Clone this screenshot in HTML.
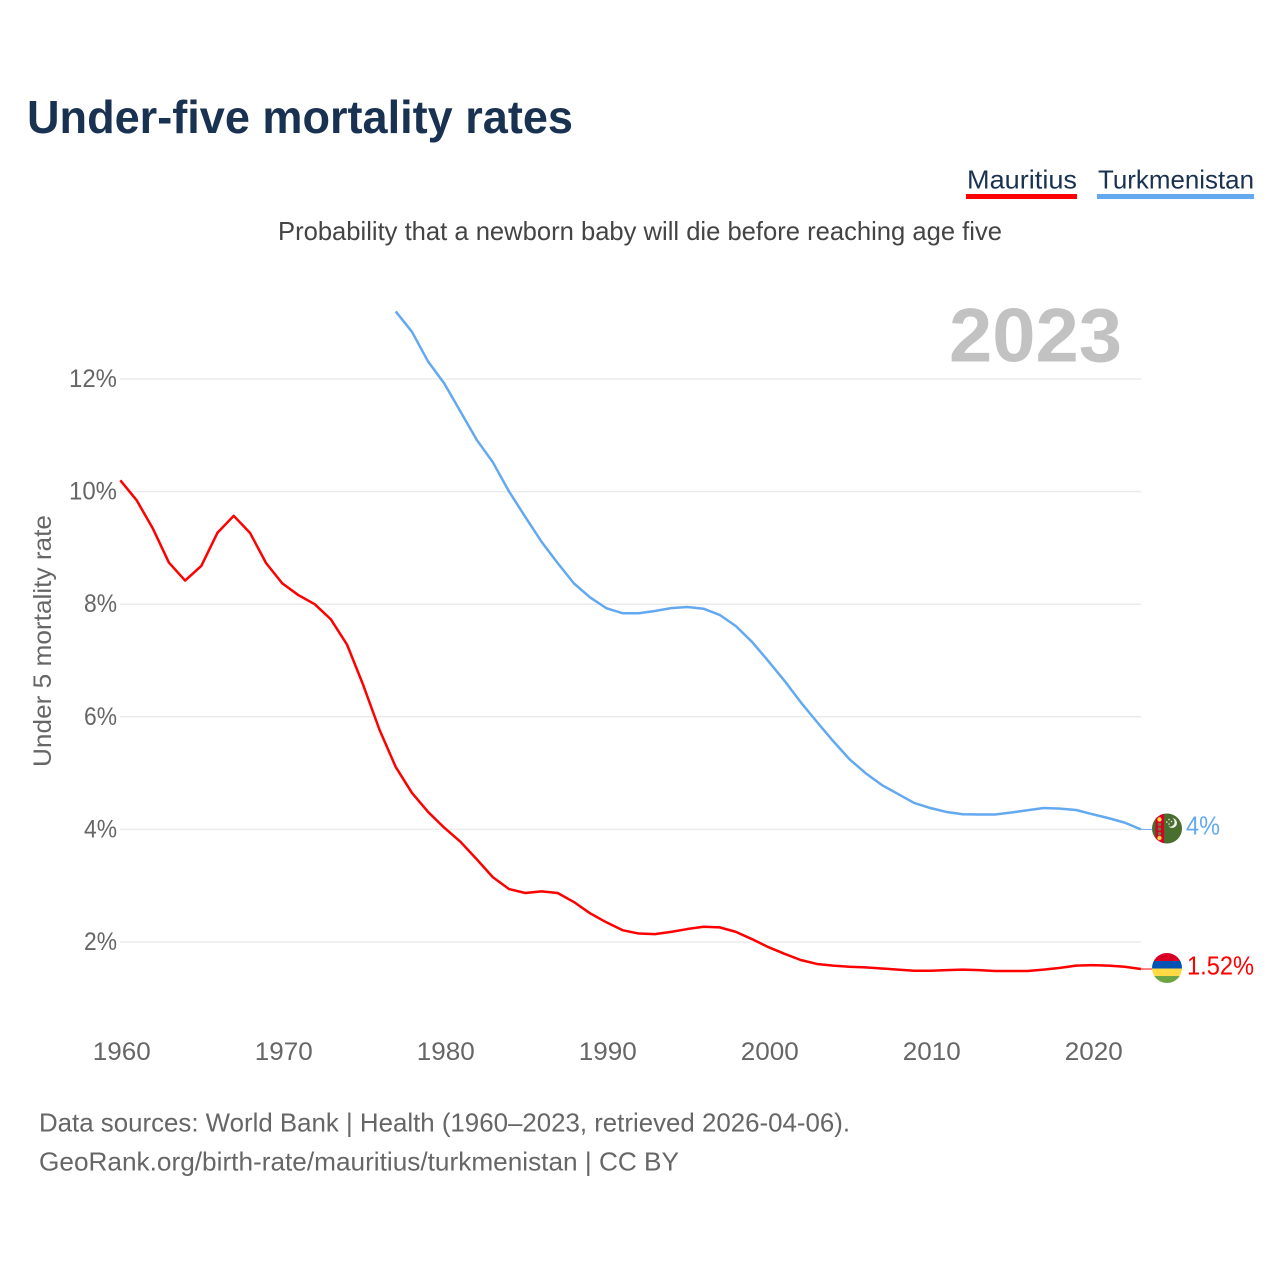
<!DOCTYPE html>
<html lang="en">
<head>
<meta charset="utf-8">
<title>Under-five mortality rates</title>
<style>
html,body{margin:0;padding:0;background:#fff;}
svg{display:block;}
text{font-family:"Liberation Sans",sans-serif;}
</style>
</head>
<body>
<svg id="chart" xmlns="http://www.w3.org/2000/svg" width="1280" height="1280" viewBox="0 0 1280 1280">
  <rect x="0" y="0" width="1280" height="1280" fill="#ffffff"/>
  <text x="27" y="133" font-size="46" font-weight="700" fill="#1a3252" textLength="546" lengthAdjust="spacingAndGlyphs">Under-five mortality rates</text>

  <g>
    <text x="967" y="188.5" font-size="26" fill="#1a3252" textLength="110" lengthAdjust="spacingAndGlyphs">Mauritius</text>
    <rect x="966" y="194" width="111" height="5" fill="#ff0000"/>
  </g>
  <g>
    <text x="1098" y="188.5" font-size="26" fill="#1a3252" textLength="156" lengthAdjust="spacingAndGlyphs">Turkmenistan</text>
    <rect x="1097" y="194" width="157" height="5" fill="#63a9ef"/>
  </g>

  <text x="278" y="240" font-size="26" fill="#444444" textLength="724" lengthAdjust="spacingAndGlyphs">Probability that a newborn baby will die before reaching age five</text>

  <g id="grid"></g>
  <text x="949" y="361.5" font-size="76" font-weight="700" fill="#c2c2c2" textLength="173" lengthAdjust="spacingAndGlyphs">2023</text>
  <g id="yticks"></g>
  <g id="xticks"></g>
  <text transform="translate(51,767) rotate(-90)" x="0" y="0" font-size="25" fill="#666666" textLength="252" lengthAdjust="spacingAndGlyphs">Under 5 mortality rate</text>

  <g id="series"></g>

  <defs>
    <clipPath id="flag-clip-tm"><circle cx="1167" cy="828.5" r="15"/></clipPath>
    <clipPath id="flag-clip-mu"><circle cx="1167" cy="968" r="15"/></clipPath>
  </defs>

  <g clip-path="url(#flag-clip-tm)">
    <rect x="1152" y="813" width="30" height="31" fill="#496e2d"/>
    <rect x="1155.5" y="813" width="8.5" height="31" fill="#d80027"/>
    <circle cx="1159.5" cy="819.5" r="2.2" fill="#ffda44"/>
    <circle cx="1159.5" cy="824.5" r="1.7" fill="#6b7a3a"/>
    <circle cx="1159.5" cy="829" r="1.7" fill="#6b7a3a"/>
    <circle cx="1159.5" cy="833.5" r="1.7" fill="#6b7a3a"/>
    <circle cx="1159.5" cy="838" r="2.2" fill="#ffda44"/>
    <circle cx="1172" cy="823" r="5" fill="#f0f0f0"/>
    <circle cx="1170" cy="822" r="4.6" fill="#496e2d"/>
    <circle cx="1169" cy="819.5" r="0.8" fill="#f0f0f0"/>
    <circle cx="1166.8" cy="822" r="0.8" fill="#f0f0f0"/>
    <circle cx="1169" cy="824" r="0.8" fill="#f0f0f0"/>
    <circle cx="1171.5" cy="821.5" r="0.8" fill="#f0f0f0"/>
  </g>
  <g clip-path="url(#flag-clip-mu)">
    <rect x="1152" y="953" width="30" height="8" fill="#d80027"/>
    <rect x="1152" y="961" width="30" height="7.5" fill="#0052b4"/>
    <rect x="1152" y="968.5" width="30" height="7.5" fill="#ffda44"/>
    <rect x="1152" y="976" width="30" height="8" fill="#6da544"/>
  </g>

  <text x="1186" y="834.5" font-size="26" fill="#63a9ef" textLength="34" lengthAdjust="spacingAndGlyphs">4%</text>
  <text x="1187" y="974.5" font-size="26" fill="#ff0000" textLength="67" lengthAdjust="spacingAndGlyphs">1.52%</text>

  <text x="39" y="1131.5" font-size="26" fill="#666666" textLength="811" lengthAdjust="spacingAndGlyphs">Data sources: World Bank | Health (1960–2023, retrieved 2026-04-06).</text>
  <text x="39" y="1170.5" font-size="26" fill="#666666" textLength="640" lengthAdjust="spacingAndGlyphs">GeoRank.org/birth-rate/mauritius/turkmenistan | CC BY</text>
</svg>
<script>
const yTicks = [2, 4, 6, 8, 10, 12];
const xTicks = [1960, 1970, 1980, 1990, 2000, 2010, 2020];
const mauritiusStartYear = 1960;
const turkmenistanStartYear = 1977;
const mauritius = [10.2,9.85,9.35,8.74,8.42,8.68,9.27,9.57,9.27,8.73,8.37,8.16,8.0,7.73,7.28,6.56,5.77,5.11,4.65,4.31,4.03,3.78,3.47,3.15,2.94,2.87,2.9,2.87,2.71,2.51,2.35,2.21,2.15,2.14,2.18,2.23,2.27,2.26,2.18,2.05,1.91,1.79,1.68,1.61,1.58,1.56,1.55,1.53,1.51,1.49,1.49,1.5,1.51,1.5,1.485,1.485,1.485,1.51,1.54,1.58,1.59,1.58,1.56,1.52];
const turkmenistan = [13.2,12.84,12.31,11.92,11.42,10.92,10.52,10.0,9.55,9.11,8.73,8.37,8.12,7.93,7.84,7.84,7.88,7.93,7.95,7.92,7.81,7.61,7.33,6.99,6.64,6.26,5.91,5.57,5.25,5.0,4.79,4.63,4.47,4.38,4.31,4.27,4.265,4.265,4.3,4.34,4.38,4.37,4.345,4.27,4.2,4.12,4.0];

const NS = 'http://www.w3.org/2000/svg';
const xScale = function (year) { return 120.3 + (year - 1960) * 16.2; };
const yScale = function (value) { return 1054.6 - value * 56.3; };

const grid = document.getElementById('grid');
const yGroup = document.getElementById('yticks');
const xGroup = document.getElementById('xticks');
const seriesGroup = document.getElementById('series');

yTicks.forEach(function (tick) {
  const line = document.createElementNS(NS, 'line');
  
  
  line.setAttribute('x1', 120);
  line.setAttribute('x2', 1141);
  line.setAttribute('y1', yScale(tick));
  line.setAttribute('y2', yScale(tick));
  line.setAttribute('stroke', '#ebebeb');
  line.setAttribute('stroke-width', '1.5');
  grid.appendChild(line);

  const label = document.createElementNS(NS, 'text');
  const str = tick + '%';
  
  
  label.setAttribute('x', 117);
  label.setAttribute('y', yScale(tick) + 8);
  label.setAttribute('text-anchor', 'end');
  label.setAttribute('font-size', '25');
  label.setAttribute('fill', '#666666');
  label.setAttribute('textLength', str.length * 15 + 3);
  label.setAttribute('lengthAdjust', 'spacingAndGlyphs');
  label.textContent = str;
  yGroup.appendChild(label);
});

xTicks.forEach(function (tick) {
  const label = document.createElementNS(NS, 'text');
  
  
  label.setAttribute('x', xScale(tick) + 1.5);
  label.setAttribute('y', 1060);
  label.setAttribute('text-anchor', 'middle');
  label.setAttribute('font-size', '25');
  label.setAttribute('fill', '#666666');
  label.setAttribute('textLength', '58');
  label.setAttribute('lengthAdjust', 'spacingAndGlyphs');
  label.textContent = String(tick);
  xGroup.appendChild(label);
});

function buildPath(values, startYear) {
  return values.map(function (value, i) {
    return (i ? 'L' : 'M') + xScale(startYear + i).toFixed(2) + ' ' + yScale(value).toFixed(2);
  }).join(' ');
}

const mauritiusLine = document.createElementNS(NS, 'path');


mauritiusLine.setAttribute('d', buildPath(mauritius, mauritiusStartYear));
mauritiusLine.setAttribute('fill', 'none');
mauritiusLine.setAttribute('stroke', '#ff0000');
mauritiusLine.setAttribute('stroke-width', '2.5');
mauritiusLine.setAttribute('stroke-linejoin', 'round');
seriesGroup.appendChild(mauritiusLine);

const turkmenistanLine = document.createElementNS(NS, 'path');


turkmenistanLine.setAttribute('d', buildPath(turkmenistan, turkmenistanStartYear));
turkmenistanLine.setAttribute('fill', 'none');
turkmenistanLine.setAttribute('stroke', '#63a9ef');
turkmenistanLine.setAttribute('stroke-width', '2.5');
turkmenistanLine.setAttribute('stroke-linejoin', 'round');
seriesGroup.appendChild(turkmenistanLine);

const mauritiusLeader = document.createElementNS(NS, 'line');


mauritiusLeader.setAttribute('x1', xScale(2023));
mauritiusLeader.setAttribute('x2', 1152);
mauritiusLeader.setAttribute('y1', yScale(mauritius[mauritius.length - 1]));
mauritiusLeader.setAttribute('y2', yScale(mauritius[mauritius.length - 1]));
mauritiusLeader.setAttribute('stroke', '#ff0000');
mauritiusLeader.setAttribute('stroke-width', '1');
seriesGroup.appendChild(mauritiusLeader);

const turkmenistanLeader = document.createElementNS(NS, 'line');


turkmenistanLeader.setAttribute('x1', xScale(2023));
turkmenistanLeader.setAttribute('x2', 1152);
turkmenistanLeader.setAttribute('y1', yScale(turkmenistan[turkmenistan.length - 1]));
turkmenistanLeader.setAttribute('y2', yScale(turkmenistan[turkmenistan.length - 1]));
turkmenistanLeader.setAttribute('stroke', '#63a9ef');
turkmenistanLeader.setAttribute('stroke-width', '1');
seriesGroup.appendChild(turkmenistanLeader);
</script>
</body>
</html>
